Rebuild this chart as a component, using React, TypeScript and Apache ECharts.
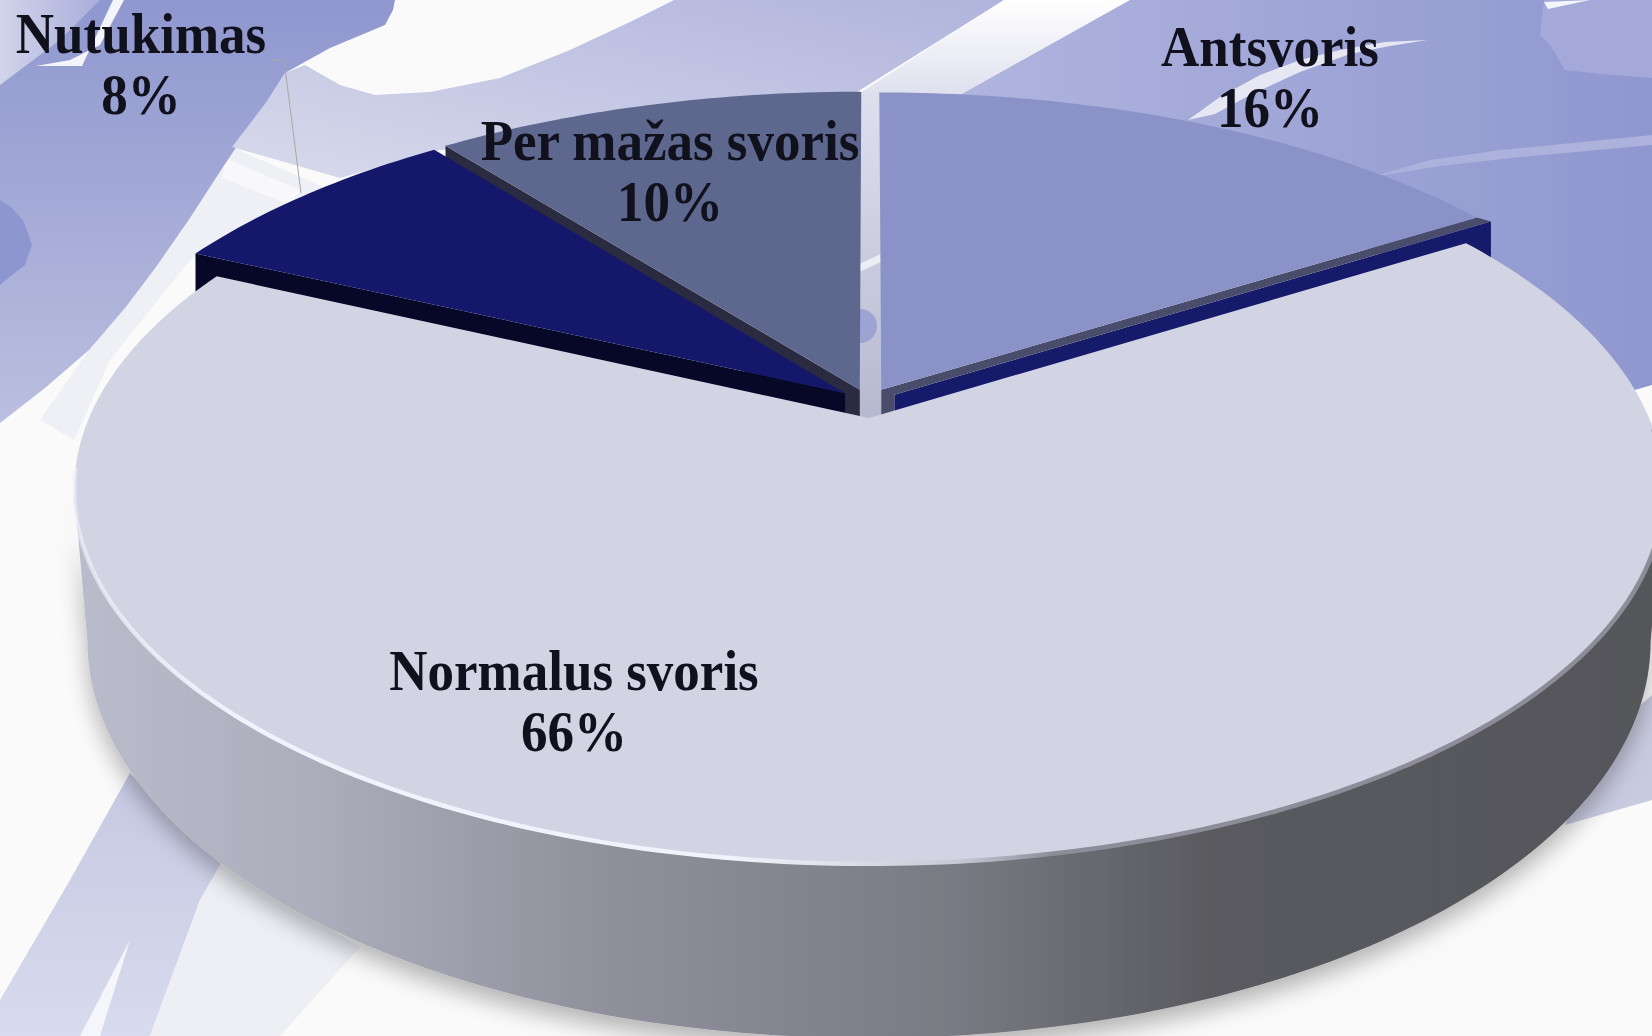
import React, { useEffect, useRef } from "react";
import * as echarts from "echarts";

// ---- data -------------------------------------------------------------
const categories = ["Antsvoris", "Normalus svoris", "Nutukimas", "Per mažas svoris"];
const values = [16, 66, 7.51, 10.49];

// ---- layout / style ---------------------------------------------------
const W = 1652, H = 1036;
const CX = 869, CY_TOP = 418, CY_BOT = 565;
const RX_TOP = 780, RY_TOP = 360, RX_BOT = 767, RY_BOT = 382, K = 0.1925;
const DRAW_ORDER = [3, 2, 0, 1];
const EXPLODE: Record<number, [number, number, number]> = {
  0: [0.016, 0.08, 1.015],
  1: [0, 0, 1],
  2: [-0.031, 0.07, 1.012],
  3: [-0.012, 0.08, 1.018],
};
const TOP_COLORS = ["#8a92c7", "#d2d4e4", "#15186a", "#5e678e"];
const LABEL_POS: [number, number][] = [[1270, 77], [574, 701], [141, 64], [670, 171]];
const TEXT_COLOR = "#10111d";
const FONT = 'bold 53px "Liberation Serif"';

const total = values.reduce((a, b) => a + b, 0);
const startPct: number[] = [];
values.reduce((acc, v, i) => { startPct[i] = acc; return acc + v; }, 0);

const rad = (p: number) => (p / total) * Math.PI * 2;
const deg = (d: number) => (d * Math.PI) / 180;
function proj(u: number, v: number, bottom = false): number[] {
  const d = 1 + K * v;
  return bottom
    ? [CX + (RX_BOT * u) / d, CY_BOT - (RY_BOT * v) / d]
    : [CX + (RX_TOP * u) / d, CY_TOP - (RY_TOP * v) / d];
}
function rimPoint(a: number, i: number, bottom = false) {
  const [du, dv, g] = EXPLODE[i];
  return proj(du + g * Math.sin(a), dv + g * Math.cos(a), bottom);
}
function arc(a0: number, a1: number, i: number, bottom = false) {
  const n = Math.max(8, Math.ceil(Math.abs(a1 - a0) * 60));
  const pts: number[][] = [];
  for (let s = 0; s <= n; s++) pts.push(rimPoint(a0 + ((a1 - a0) * s) / n, i, bottom));
  return pts;
}
const shift = (p: number[], dx: number, dy: number) => [p[0] + dx, p[1] + dy];
const poly = (points: number[][], fill: any, extra: any = {}) => ({
  type: "polygon", shape: { points }, style: { fill, ...extra },
});
const line = (points: number[][], stroke: any, lineWidth: number, opacity = 1) => ({
  type: "polyline", shape: { points }, style: { fill: null, stroke, lineWidth, opacity, lineCap: "round" },
});

function renderSlice(params: any, api: any) {
  const i = api.value(0) as number;
  const a0 = rad(startPct[i]), a1 = rad(startPct[i] + values[i]);
  const [du, dv] = EXPLODE[i];
  const apex = proj(du, dv);
  const children: any[] = [];
  const rim = arc(a0, a1, i);
  if (i === 0) {
    const T = rim[rim.length - 1];
    children.push(poly([shift(apex, 13, 5), shift(T, 14, 4), shift(T, 14, 40), shift(apex, 13, 45)], "#161a6b"));
    children.push(poly([apex, T, shift(T, 14, 4), shift(apex, 13, 5), shift(apex, 13, 30), shift(apex, 0, 30)], "#4a4c6b"));
  } else if (i === 2) {
    const T = rim[0];
    children.push(poly([apex, T, shift(T, 0, 45), shift(apex, 0, 45)], "#070828"));
  } else if (i === 3) {
    const T = rim[0];
    children.push(poly([apex, T, shift(T, 0, 50), shift(apex, 0, 50)], "#2a2b40"));
  } else {
    // outer wall: from the right-most to the left-most point of the two rims
    const right = Math.PI - Math.acos(K);
    const left = Math.PI + Math.acos(K);
    const hull = [...arc(right, left, i), ...arc(left, right, i, true)];
    children.push(poly(hull, new echarts.graphic.LinearGradient(74, 0, 1652, 0, [
      { offset: 0, color: "#bbbccb" },
      { offset: 0.15, color: "#adaebc" },
      { offset: 0.33, color: "#90919d" },
      { offset: 0.55, color: "#7a7b84" },
      { offset: 0.72, color: "#5a5a60" },
      { offset: 1, color: "#55565a" },
    ], true), { shadowBlur: 22, shadowOffsetY: 12, shadowColor: "rgba(0,0,0,0.28)" }));
  }
  children.push(poly([apex, ...rim], TOP_COLORS[i]));
  if (i === 1) {
    const rimGrad = new echarts.graphic.LinearGradient(74, 0, 1652, 0, [
      { offset: 0, color: "rgba(243,244,252,0.55)" },
      { offset: 0.1, color: "#f1f2fb" },
      { offset: 0.42, color: "#f1f2fb" },
      { offset: 0.56, color: "#c8c9d6" },
      { offset: 0.62, color: "#8c8d98" },
      { offset: 1, color: "#8c8d98" },
    ], true);
    children.push(line(arc(deg(92), deg(262), 1), rimGrad, 4.5));
  }
  return { type: "group", children };
}

// ---- decorative background ---------------------------------------------
const bg = (points: number[][], fill: any) => ({
  type: "polygon", silent: true, z: 0, shape: { points }, style: { fill },
});
const vgrad = (a: string, b: string) => new echarts.graphic.LinearGradient(0, 0, 0, 1, [{ offset: 0, color: a }, { offset: 1, color: b }]);
const dgrad = (a: string, b: string) => new echarts.graphic.LinearGradient(1, 0, 0, 1, [{ offset: 0, color: a }, { offset: 1, color: b }]);
const hgrad = (a: string, b: string) => new echarts.graphic.LinearGradient(0, 0, 1, 0, [{ offset: 0, color: a }, { offset: 1, color: b }]);

function background() {
  return [
    { type: "rect", silent: true, z: 0, shape: { x: 0, y: 0, width: W, height: H }, style: { fill: "#fafafa" } },
    // light strip left of the pie
    bg([[232, 147], [330, 190], [190, 260], [110, 360], [74, 440], [40, 420], [89, 350], [156, 267]], "#eef0f6"),
    bg([[225, 158], [300, 190], [290, 205], [222, 178]], "#f8f8fb"),
    // big left blob
    bg([[0, 0], [395, 0], [393, 10], [385, 25], [330, 48], [285, 73], [268, 100], [223, 167], [190, 218], [156, 267], [125, 308], [89, 350], [45, 388], [0, 423]], vgrad("#8f97cf", "#bbbfdf")),
    bg([[0, 0], [100, 0], [60, 40], [0, 85]], hgrad("#d2d4ea", "#a9aedb")),
    bg([[82, 66], [113, 0], [124, 0], [100, 45], [70, 60], [36, 66]], "#f4f5fa"),
    bg([[0, 200], [12, 208], [24, 222], [32, 245], [25, 265], [12, 275], [0, 285]], "#8e96cf"),
    // middle band
    bg([[674, 0], [1004, 0], [857, 92], [860, 130], [440, 150], [340, 178], [232, 147], [268, 100], [285, 73], [305, 65], [340, 85], [375, 95], [430, 92], [500, 78], [570, 50], [630, 22]], dgrad("#b0b4dc", "#d8daeb")),
    // white diagonal
    bg([[1004, 0], [1130, 0], [960, 95], [857, 95]], vgrad("#ffffff", "#dfe0ee")),
    // right blob
    bg([[1130, 0], [1652, 0], [1652, 385], [1600, 400], [1450, 280], [960, 95]], hgrad("#b0b4de", "#8f97cf")),
    bg([[1544, 0], [1652, 0], [1652, 78], [1600, 74], [1565, 70], [1550, 45], [1540, 35]], "#a4a9d9"),
    bg([[1544, 2], [1590, 0], [1548, 9]], "#f4f5fa"),
    bg([[1427, 40], [1385, 42], [1340, 50], [1300, 60], [1260, 75], [1220, 97], [1188, 120], [1215, 114], [1250, 95], [1300, 72], [1350, 54], [1390, 46]], "#e6e7f3"),
    bg([[1378, 175], [1430, 160], [1500, 150], [1652, 135], [1652, 145], [1520, 157], [1440, 166], [1385, 175]], "#adb2dc"),
    // gap between the two back slices
    { type: "rect", silent: true, z: 0, shape: { x: 855, y: 92, width: 30, height: 330 }, style: { fill: vgrad("#dfe0ee", "#b6b8cf") } },
    { type: "circle", silent: true, z: 0, shape: { cx: 860, cy: 326, r: 17 }, style: { fill: "#9da3d3" } },
    bg([[855, 266], [885, 252], [885, 260], [855, 274]], "#eceef5"),
    // lower-left strokes
    bg([[130, 773], [222, 862], [200, 900], [150, 1036], [0, 1036], [0, 1000], [70, 880]], vgrad("#c6c9e2", "#d8daed")),
    bg([[130, 940], [80, 1036], [100, 1036]], "#f5f6fb"),
    bg([[222, 862], [360, 947], [280, 1036], [150, 1036], [200, 900]], "#eeeff5"),
    // lower-right stroke
    bg([[1652, 695], [1652, 800], [1565, 825], [1600, 740]], "#c8cadf"),
  ];
}

export default function App() {
  const ref = useRef<HTMLDivElement>(null);
  useEffect(() => {
    document.body.style.margin = "0";
    document.body.style.overflow = "hidden";
    const chart = echarts.init(ref.current!, null, { renderer: "svg" });
    const labels = categories.map((c, i) => ({
      type: "text", silent: true, z: 50,
      x: LABEL_POS[i][0], y: LABEL_POS[i][1], scaleY: 1.07,
      style: {
        text: `${c}\n${Math.round(values[i])}%`,
        font: FONT, lineHeight: 57, fill: TEXT_COLOR,
        textAlign: "center", textVerticalAlign: "middle",
      },
    }));
    chart.setOption({
      animation: false,
      backgroundColor: "#fafafa",
      graphic: {
        elements: [
          ...background(),
          {
            type: "polyline", silent: true, z: 49,
            shape: { points: [[272, 60], [284, 60], [301, 193]] },
            style: { fill: null, stroke: "#a9a9a3", lineWidth: 1 },
          },
          ...labels,
        ],
      },
      series: [{
        type: "custom",
        coordinateSystem: "none",
        silent: true,
        z: 10,
        renderItem: renderSlice,
        data: DRAW_ORDER.map((i) => [i, values[i]]),
        encode: { value: [0, 1] },
      }],
    });
    return () => chart.dispose();
  }, []);
  return <div ref={ref} style={{ width: W, height: H }} />;
}
